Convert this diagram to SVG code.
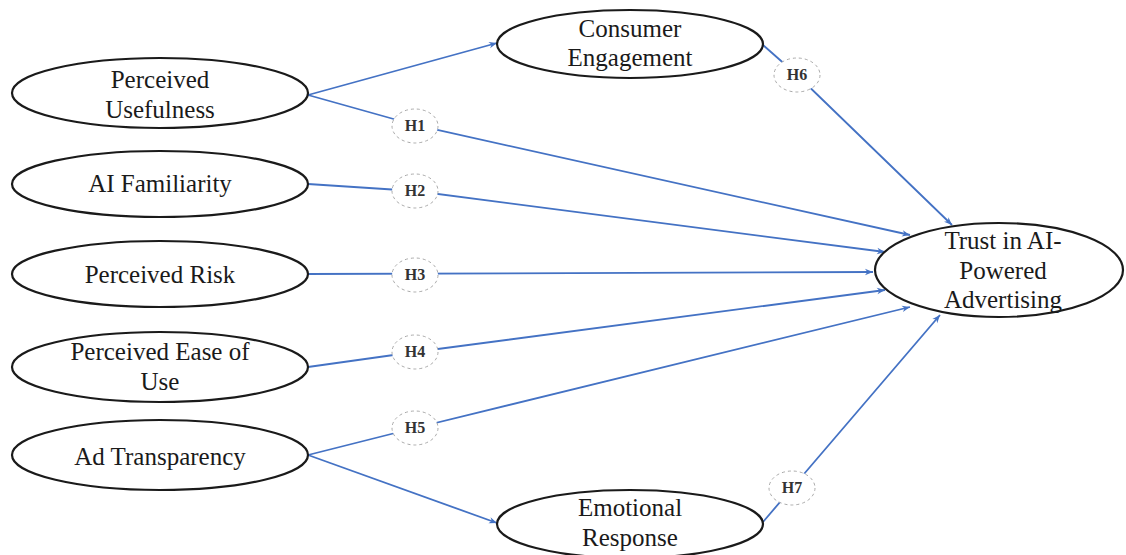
<svg xmlns="http://www.w3.org/2000/svg" width="1126" height="555" viewBox="0 0 1126 555">
<style>
.node{fill:#fff;stroke:#1a1a1a;stroke-width:2.2}
.t{font-family:"Liberation Serif","Times New Roman",serif;font-size:25px;fill:#1a1a1a;text-anchor:middle}
.c{fill:none;stroke:#4472C4;stroke-width:1.8}
.hl{fill:#fff;stroke:#aaa;stroke-width:1;stroke-dasharray:3 3}
.ht{font-family:"Liberation Serif","Times New Roman",serif;font-size:16px;font-weight:bold;fill:#333;text-anchor:middle}
</style>
<defs>
<marker id="arr" viewBox="0 0 10 10" refX="10" refY="5" markerWidth="10" markerHeight="8" markerUnits="userSpaceOnUse" orient="auto">
<path d="M0,1 L10,5 L0,9 L3,5 Z" fill="#4472C4"/>
</marker>
</defs>
<g id="connectors">
<line class="c" x1="308" y1="95" x2="497" y2="43" marker-end="url(#arr)"/>
<polyline class="c" points="308,95 415,125 910,235" marker-end="url(#arr)"/>
<polyline class="c" points="308,184 415,191 885,252" marker-end="url(#arr)"/>
<line class="c" x1="308" y1="274" x2="873" y2="272" marker-end="url(#arr)"/>
<polyline class="c" points="308,367 415,352 885,290" marker-end="url(#arr)"/>
<polyline class="c" points="308,455 415,428 910,307" marker-end="url(#arr)"/>
<line class="c" x1="308" y1="455" x2="497" y2="523" marker-end="url(#arr)"/>
<polyline class="c" points="763,45 797,75 952,225" marker-end="url(#arr)"/>
<polyline class="c" points="763,522 792,488 940,315" marker-end="url(#arr)"/>
</g>
<g id="labels">
<g id="h1"><ellipse class="hl" cx="415" cy="126" rx="23" ry="17"/><text class="ht" x="415" y="131">H1</text></g>
<g id="h2"><ellipse class="hl" cx="415" cy="191" rx="23" ry="17"/><text class="ht" x="415" y="196">H2</text></g>
<g id="h3"><ellipse class="hl" cx="415" cy="275" rx="23" ry="17"/><text class="ht" x="415" y="280">H3</text></g>
<g id="h4"><ellipse class="hl" cx="415" cy="352" rx="23" ry="17"/><text class="ht" x="415" y="357">H4</text></g>
<g id="h5"><ellipse class="hl" cx="415" cy="428" rx="23" ry="17"/><text class="ht" x="415" y="433">H5</text></g>
<g id="h6"><ellipse class="hl" cx="797" cy="75" rx="23" ry="17"/><text class="ht" x="797" y="80">H6</text></g>
<g id="h7"><ellipse class="hl" cx="792" cy="488" rx="23" ry="17"/><text class="ht" x="792" y="493">H7</text></g>
</g>
<g id="perceived-usefulness"><ellipse class="node" cx="160" cy="93" rx="148" ry="35"/><text class="t" x="160" y="88">Perceived</text><text class="t" x="160" y="118">Usefulness</text></g>
<g id="ai-familiarity"><ellipse class="node" cx="160" cy="184" rx="148" ry="33"/><text class="t" x="160" y="192">AI Familiarity</text></g>
<g id="perceived-risk"><ellipse class="node" cx="160" cy="274" rx="148" ry="33"/><text class="t" x="160" y="283">Perceived Risk</text></g>
<g id="perceived-ease"><ellipse class="node" cx="160" cy="367" rx="148" ry="35"/><text class="t" x="160" y="360">Perceived Ease of</text><text class="t" x="160" y="390">Use</text></g>
<g id="ad-transparency"><ellipse class="node" cx="160" cy="455" rx="148" ry="35"/><text class="t" x="160" y="465">Ad Transparency</text></g>
<g id="consumer-engagement"><ellipse class="node" cx="630" cy="44" rx="133" ry="34"/><text class="t" x="630" y="37">Consumer</text><text class="t" x="630" y="66">Engagement</text></g>
<g id="emotional-response"><ellipse class="node" cx="630" cy="524" rx="133" ry="34"/><text class="t" x="630" y="516">Emotional</text><text class="t" x="630" y="546">Response</text></g>
<g id="trust"><ellipse class="node" cx="999" cy="270" rx="124" ry="47"/><text class="t" x="1003" y="249">Trust in AI-</text><text class="t" x="1003" y="279">Powered</text><text class="t" x="1003" y="308">Advertising</text></g>
</svg>
